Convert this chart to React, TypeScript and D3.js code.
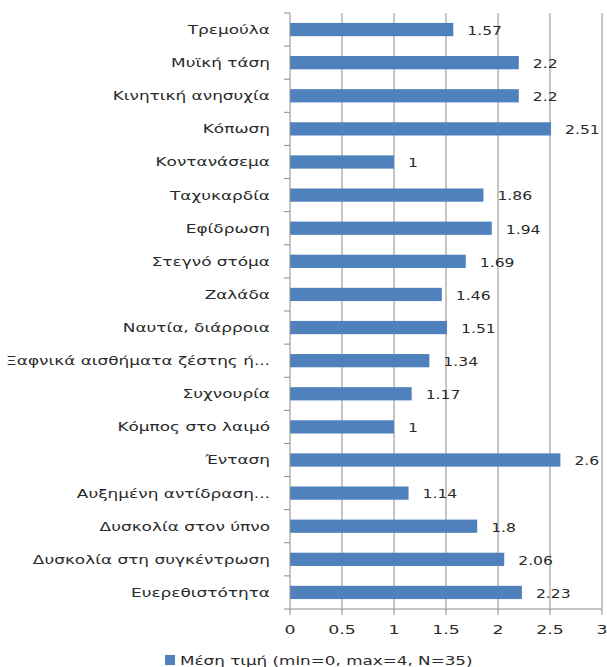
import React from "react";
import * as d3 from "d3";

const categories = [
  "Τρεμούλα",
  "Μυϊκή τάση",
  "Κινητική ανησυχία",
  "Κόπωση",
  "Κοντανάσεμα",
  "Ταχυκαρδία",
  "Εφίδρωση",
  "Στεγνό στόμα",
  "Ζαλάδα",
  "Ναυτία, διάρροια",
  "Ξαφνικά αισθήματα ζέστης ή...",
  "Συχνουρία",
  "Κόμπος στο λαιμό",
  "Ένταση",
  "Αυξημένη αντίδραση...",
  "Δυσκολία στον ύπνο",
  "Δυσκολία στη συγκέντρωση",
  "Ευερεθιστότητα",
];
const values = [1.57, 2.2, 2.2, 2.51, 1, 1.86, 1.94, 1.69, 1.46, 1.51, 1.34, 1.17, 1, 2.6, 1.14, 1.8, 2.06, 2.23];
const xTicks = [0, 0.5, 1, 1.5, 2, 2.5, 3];
const legendLabel = "Μέση τιμή (min=0, max=4, N=35)";

const W = 607;
const H = 667;
const FONT = "DejaVu Sans, Verdana, sans-serif";
const TXT = "#2a2a2a";

export default function App() {
  const x = d3.scaleLinear().domain([0, 3]).range([290, 602]);
  const y = d3.scaleBand().domain(categories).range([13, 609]).paddingInner(0.6).paddingOuter(0.3);
  const band = d3.scaleBand().domain(categories).range([13, 609]);
  const T = (px: number, py: number, s: string, anchor: string, sx: number, size = 12) => (
    <text
      transform={`translate(${px},${py}) scale(${sx},1)`}
      textAnchor={anchor}
      dominantBaseline="central"
      fontFamily={FONT}
      fontSize={size}
      fill={TXT}
    >
      {s}
    </text>
  );
  return (
    <svg width={W} height={H} style={{ position: "absolute", left: 0, top: 0 }}>
      <rect width={W} height={H} fill="#fff" />
      {xTicks.slice(1).map((t) => (
        <line key={t} x1={x(t)} x2={x(t)} y1={13} y2={609} stroke="#8c8c8c" strokeWidth={1} />
      ))}
      {categories.map((c, i) => (
        <rect key={c} x={x(0)} y={y(c)} width={x(values[i]) - x(0)} height={y.bandwidth()} fill="#4F81BD" />
      ))}
      <line x1={x(0)} x2={x(0)} y1={13} y2={609} stroke="#8c8c8c" />
      {categories.map((c) => (
        <line key={"t" + c} x1={x(0) - 6} x2={x(0)} y1={band(c)} y2={band(c)} stroke="#8c8c8c" />
      ))}
      <line x1={x(0) - 6} x2={x(0)} y1={609} y2={609} stroke="#8c8c8c" />
      <line x1={x(0)} x2={x(3)} y1={609} y2={609} stroke="#8c8c8c" />
      {xTicks.map((t) => (
        <line key={"xt" + t} x1={x(t)} x2={x(t)} y1={609} y2={615} stroke="#8c8c8c" />
      ))}
      {categories.map((c) => (
        <g key={"l" + c}>{T(270, band(c)! + band.bandwidth() / 2, c, "end", 1.41)}</g>
      ))}
      {categories.map((c, i) => (
        <g key={"v" + c}>{T(x(values[i]) + 14, band(c)! + band.bandwidth() / 2 + 1, String(values[i]), "start", 1.3)}</g>
      ))}
      {xTicks.map((t) => (
        <g key={"xl" + t}>{T(x(t), 630, String(t), "middle", 1.45)}</g>
      ))}
      <rect x={165} y={655} width={10} height={10} fill="#4F81BD" />
      {T(180, 660, legendLabel, "start", 1.4)}
    </svg>
  );
}
